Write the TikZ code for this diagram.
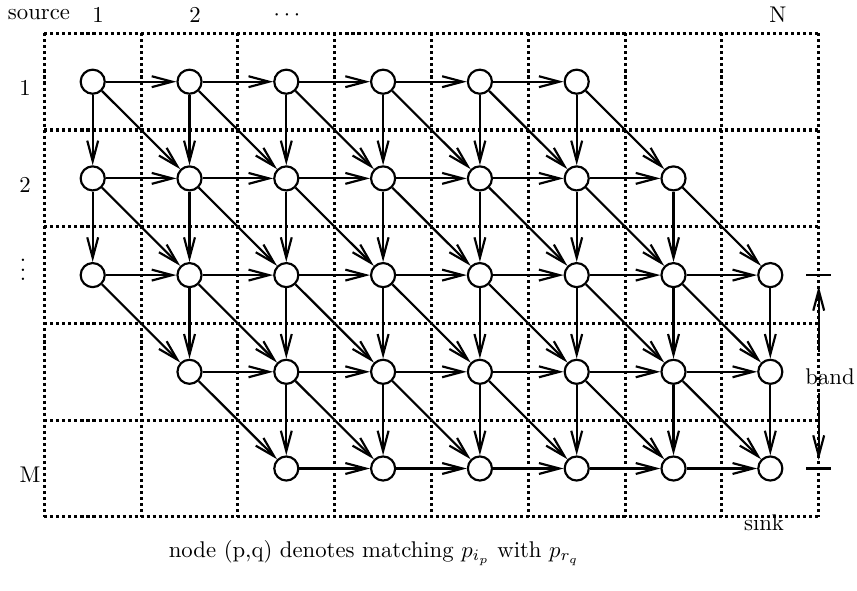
\documentclass[tikz,border=0pt]{standalone}
\usetikzlibrary{arrows.meta}
\begin{document}
\begin{tikzpicture}[x=0.44pt,y=-0.44pt,
  gridline/.style={line width=1.35pt, dash pattern=on 1.35pt off 1.3pt},
  vert/.style={circle, draw, line width=0.95pt, minimum size=10.6pt, inner sep=0pt},
  edge/.style={line width=0.95pt, -{Straight Barb[length=9pt,width=4.8pt,line width=0.95pt]}},
  lbl/.style={inner sep=0pt, font=\normalsize}]
\useasboundingbox (0,0) rectangle (857,590);
% dotted grid
\foreach \i in {0,...,8} \draw[gridline] ({44.3+96.8*\i},33.3) -- ({44.3+96.8*\i},516.7);
\foreach \j in {0,...,5} \draw[gridline] (44.3,{33.3+96.7*\j}) -- (818.7,{33.3+96.7*\j});
% nodes
\foreach \r in {1,...,5} {
  \foreach \c in {1,...,8} {
    \pgfmathtruncatemacro\d{\c-\r}
    \ifnum\d>-3 \ifnum\d<6
      \node[vert] (n\r\c) at ({92.7+96.8*(\c-1)},{81.7+96.7*(\r-1)}) {};
    \fi\fi
  }
}
% edges
\foreach \r in {1,...,5} {
  \foreach \c in {1,...,8} {
    \pgfmathtruncatemacro\d{\c-\r}
    \pgfmathtruncatemacro\cn{\c+1}
    \pgfmathtruncatemacro\rn{\r+1}
    \ifnum\d>-3 \ifnum\d<6
      % right
      \ifnum\cn<9 \ifnum\d<5 \draw[edge] (n\r\c) -- (n\r\cn); \fi\fi
      % down
      \ifnum\rn<6 \ifnum\d>-2 \draw[edge] (n\r\c) -- (n\rn\c); \fi\fi
      % diagonal
      \ifnum\rn<6 \ifnum\cn<9 \draw[edge] (n\r\c) -- (n\rn\cn); \fi\fi
    \fi\fi
  }
}
% column labels
\node[lbl] (src) at (39,15) {source};
\node[lbl] (c1) at (98,15) {1};
\node[lbl] (c2) at (195,15) {2};
\node[lbl] (cd) at (287,15) {$\cdots$};
\node[lbl] (cN) at (778,15) {N};
% row labels
\node[lbl] (r1) at (25,88) {1};
\node[lbl] (r2) at (25,185) {2};
\node[lbl] (rd) at (23,263) {$\vdots$};
\node[lbl] (rM) at (30,475) {M};
% band
\coordinate (t1a) at (806,275.1);
\coordinate (t1b) at (831,275.1);
\coordinate (t2a) at (806,468.5);
\coordinate (t2b) at (831,468.5);
\draw[line width=0.95pt] (t1a) -- (t1b);
\draw[line width=0.95pt] (t2a) -- (t2b);
\node[lbl] (band) at (830,377) {band};
\coordinate (ua) at (818.7,352);
\coordinate (ub) at (818.7,286);
\coordinate (da) at (818.7,393);
\coordinate (db) at (818.7,460);
\draw[edge] (ua) -- (ub);
\draw[edge] (da) -- (db);
\node[lbl] (sink) at (764,523) {sink};
\node[lbl] (note) at (374,553) {node (p,q) denotes matching $p_{i_p}$ with $p_{r_q}$};
\end{tikzpicture}
\end{document}
